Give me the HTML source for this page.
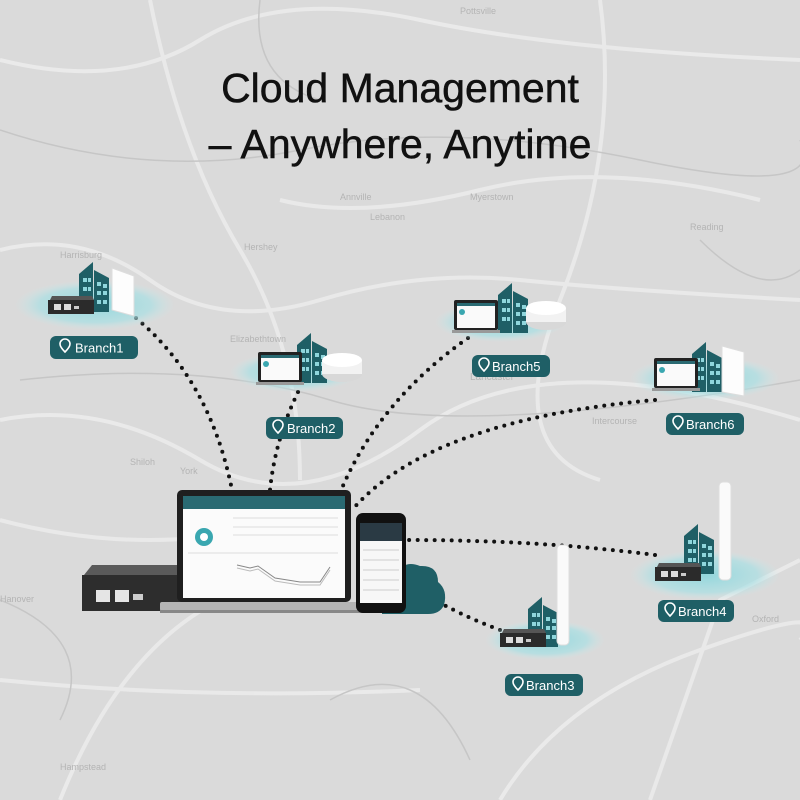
<!DOCTYPE html>
<html><head><meta charset="utf-8"><style>
html,body{margin:0;padding:0;width:800px;height:800px;overflow:hidden;background:#dadada}
svg{display:block}
text{font-family:"Liberation Sans",sans-serif}
</style></head><body>
<svg width="800" height="800" viewBox="0 0 800 800" xmlns="http://www.w3.org/2000/svg">
<defs>
<radialGradient id="glow"><stop offset="0" stop-color="#8fd6dc" stop-opacity=".95"/><stop offset=".7" stop-color="#a9e0e4" stop-opacity=".7"/><stop offset="1" stop-color="#c8e9eb" stop-opacity="0"/></radialGradient>
<g id="bld">
<polygon points="0,12 14,0 14,50 0,50" fill="#1f5f66"/>
<polygon points="15,8 30,16 30,50 15,50" fill="#1f5f66"/>
<g fill="#8fd6dc"><rect x="4" y="16" width="4" height="4"/><rect x="4" y="25" width="4" height="4"/><rect x="4" y="34" width="4" height="4"/><rect x="18" y="20" width="4" height="4"/><rect x="24" y="22" width="4" height="4"/><rect x="18" y="29" width="4" height="4"/><rect x="24" y="29" width="4" height="4"/><rect x="18" y="38" width="4" height="4"/><rect x="24" y="38" width="4" height="4"/><rect x="9" y="16" width="3" height="4"/><rect x="9" y="25" width="3" height="4"/><rect x="9" y="34" width="3" height="4"/></g>
</g>
<g id="rtr">
<polygon points="4,0 44,0 46,4 2,4" fill="#555"/>
<rect x="0" y="4" width="46" height="14" fill="#2b2b2b"/>
<rect x="6" y="8" width="7" height="6" fill="#ddd"/><rect x="16" y="8" width="7" height="6" fill="#ddd"/><rect x="26" y="10" width="5" height="3" fill="#ccc"/>
</g>
<g id="lap">
<rect x="2" y="0" width="44" height="30" rx="2" fill="#222"/>
<rect x="5" y="3" width="38" height="25" fill="#fafafa"/>
<rect x="5" y="3" width="38" height="3" fill="#2a6a72"/>
<circle cx="10" cy="12" r="3" fill="#3aa7b0"/>
<rect x="0" y="30" width="48" height="3" fill="#999"/>
</g>
<g id="puck">
<ellipse cx="20" cy="22" rx="20" ry="8" fill="#d8d8d8"/>
<rect x="0" y="8" width="40" height="14" fill="#f2f2f2"/>
<ellipse cx="20" cy="8" rx="20" ry="7" fill="#fff"/>
</g>
</defs>

<g fill="none" stroke="#ebebeb" stroke-width="4" opacity=".9">
<path d="M0 60 Q120 90 200 40 T420 20 T800 60"/>
<path d="M0 250 Q80 230 150 280 T320 300 T520 280 T800 300"/>
<path d="M0 420 Q100 400 200 460 T420 430 T800 420"/>
<path d="M0 520 Q150 560 300 520"/>
<path d="M60 800 Q120 650 220 600"/>
<path d="M500 800 Q560 700 700 650 T800 640"/>
<path d="M280 200 Q360 220 480 190 T760 200"/>
<path d="M600 0 Q620 150 560 300 T600 480"/>
<path d="M150 0 Q180 150 240 250 T300 480"/>
<path d="M0 680 Q200 700 420 690"/>
<path d="M650 800 L720 600 L800 560"/>
</g>
<g fill="none" stroke="#c6c6c6" stroke-width="1.5">
<path d="M0 130 Q150 180 300 150 T640 160 T800 140"/>
<path d="M20 380 Q200 360 330 400 T800 380"/>
<path d="M0 600 Q100 640 60 720"/>
<path d="M330 700 Q420 650 470 760"/>
<path d="M700 240 Q760 300 800 270"/>
<path d="M260 0 Q250 80 320 100"/>
</g>
<g fill="#b4b4b4" font-size="9">
<text x="60" y="258">Harrisburg</text><text x="230" y="342">Elizabethtown</text><text x="470" y="380" font-size="10">Lancaster</text>
<text x="592" y="424">Intercourse</text><text x="180" y="474">York</text><text x="130" y="465">Shiloh</text>
<text x="370" y="220">Lebanon</text><text x="470" y="200">Myerstown</text><text x="340" y="200">Annville</text>
<text x="244" y="250">Hershey</text><text x="60" y="770">Hampstead</text><text x="0" y="602">Hanover</text>
<text x="460" y="14">Pottsville</text><text x="690" y="230">Reading</text><text x="752" y="622">Oxford</text>
</g>

<text x="400" y="102" text-anchor="middle" font-size="41" fill="#111" stroke="#111" stroke-width="0.5">Cloud Management</text>
<text x="400" y="158" text-anchor="middle" font-size="41" fill="#111" stroke="#111" stroke-width="0.5">– Anywhere, Anytime</text>

<g fill="none" stroke="#111" stroke-width="4" stroke-linecap="round" stroke-dasharray="0 8.5">
<path d="M136 318 Q210 380 232 490"/>
<path d="M298 392 Q275 440 270 490"/>
<path d="M468 338 Q380 400 342 488"/>
<path d="M655 400 Q430 420 352 510"/>
<path d="M655 555 Q540 540 408 540"/>
<path d="M500 630 Q460 615 430 597"/>
</g>

<ellipse cx="95" cy="305" rx="80" ry="25" fill="url(#glow)"/>
<ellipse cx="295" cy="372" rx="65" ry="20" fill="url(#glow)"/>
<ellipse cx="500" cy="322" rx="65" ry="20" fill="url(#glow)"/>
<ellipse cx="705" cy="378" rx="75" ry="22" fill="url(#glow)"/>
<ellipse cx="705" cy="575" rx="75" ry="25" fill="url(#glow)"/>
<ellipse cx="545" cy="640" rx="60" ry="20" fill="url(#glow)"/>

<use href="#bld" transform="translate(79,262)"/>
<polygon points="112,268 134,276 134,316 112,310" fill="#fdfdfd" stroke="#ddd"/>
<use href="#rtr" transform="translate(48,296)"/>
<use href="#bld" transform="translate(297,333)"/>
<use href="#lap" transform="translate(256,352)"/>
<use href="#puck" transform="translate(322,352)"/>
<use href="#bld" transform="translate(498,283)"/>
<use href="#lap" transform="translate(452,300)"/>
<use href="#puck" transform="translate(526,300)"/>
<use href="#bld" transform="translate(692,342)"/>
<use href="#lap" transform="translate(652,358)"/>
<polygon points="722,346 744,352 744,396 722,392" fill="#fdfdfd" stroke="#ddd"/>
<use href="#bld" transform="translate(684,524)"/>
<rect x="719" y="482" width="12" height="98" rx="4" fill="#fafafa" stroke="#ddd"/>
<use href="#rtr" transform="translate(655,563)"/>
<use href="#bld" transform="translate(528,597)"/>
<rect x="557" y="545" width="12" height="100" rx="4" fill="#fafafa" stroke="#ddd"/>
<use href="#rtr" transform="translate(500,629)"/>

<polygon points="92,565 180,565 184,575 84,575" fill="#5a5a5a"/>
<rect x="82" y="575" width="102" height="36" fill="#2d2d2d"/>
<rect x="96" y="590" width="14" height="12" fill="#e5e5e5"/><rect x="115" y="590" width="14" height="12" fill="#e5e5e5"/><rect x="133" y="594" width="10" height="6" fill="#ccc"/>
<rect x="177" y="490" width="174" height="112" rx="5" fill="#1f1f1f"/>
<rect x="183" y="496" width="162" height="102" fill="#fbfbfb"/>
<rect x="183" y="496" width="162" height="13" fill="#2a6a72"/>
<circle cx="204" cy="537" r="9" fill="#3aa7b0"/><circle cx="204" cy="537" r="4" fill="#fff"/>
<g stroke="#ddd" stroke-width="1"><line x1="233" y1="518" x2="338" y2="518"/><line x1="233" y1="527" x2="338" y2="527"/><line x1="233" y1="535" x2="338" y2="535"/><line x1="188" y1="553" x2="338" y2="553"/></g>
<path d="M237 565 L250 568 L258 566 L275 578 L300 582 L320 582 L330 567" fill="none" stroke="#888"/>
<path d="M237 568 L250 571 L258 569 L275 581 L300 585 L320 585 L330 570" fill="none" stroke="#bbb"/>
<rect x="160" y="602" width="210" height="9" rx="2" fill="#b5b5b5"/>
<rect x="160" y="610" width="210" height="3" fill="#888"/>
<path d="M382 614 L382 585 Q385 570 398 572 Q405 560 420 566 Q438 565 438 582 Q448 590 444 605 Q440 614 428 614 Z" fill="#1f5f66"/>
<rect x="356" y="513" width="50" height="100" rx="7" fill="#111"/>
<rect x="360" y="523" width="42" height="80" fill="#f7f7f7"/>
<rect x="360" y="523" width="42" height="18" fill="#2a3a44"/>
<g stroke="#ccc"><line x1="363" y1="550" x2="399" y2="550"/><line x1="363" y1="560" x2="399" y2="560"/><line x1="363" y1="570" x2="399" y2="570"/><line x1="363" y1="580" x2="399" y2="580"/><line x1="363" y1="590" x2="399" y2="590"/></g>

<g font-size="13" fill="#fff">
<g><rect x="50" y="336" width="88" height="23" rx="6" fill="#1f5f66"/><text x="75" y="352.5">Branch1</text></g>
<g><rect x="266" y="417" width="77" height="22" rx="6" fill="#1f5f66"/><text x="287" y="433">Branch2</text></g>
<g><rect x="472" y="355" width="78" height="22" rx="6" fill="#1f5f66"/><text x="492" y="371">Branch5</text></g>
<g><rect x="666" y="413" width="78" height="22" rx="6" fill="#1f5f66"/><text x="686" y="429">Branch6</text></g>
<g><rect x="658" y="600" width="76" height="22" rx="6" fill="#1f5f66"/><text x="678" y="616">Branch4</text></g>
<g><rect x="505" y="674" width="78" height="22" rx="6" fill="#1f5f66"/><text x="526" y="690">Branch3</text></g>
</g>
<g fill="none" stroke="#fff" stroke-width="1.6">
<path d="M65 352 q-5 -5 -5 -8 a5 5 0 0 1 10 0 q0 3 -5 8z"/>
<path d="M278 433 q-5 -5 -5 -8 a5 5 0 0 1 10 0 q0 3 -5 8z"/>
<path d="M484 371 q-5 -5 -5 -8 a5 5 0 0 1 10 0 q0 3 -5 8z"/>
<path d="M678 429 q-5 -5 -5 -8 a5 5 0 0 1 10 0 q0 3 -5 8z"/>
<path d="M670 616 q-5 -5 -5 -8 a5 5 0 0 1 10 0 q0 3 -5 8z"/>
<path d="M518 690 q-5 -5 -5 -8 a5 5 0 0 1 10 0 q0 3 -5 8z"/>
</g>
</svg>
</body></html>
